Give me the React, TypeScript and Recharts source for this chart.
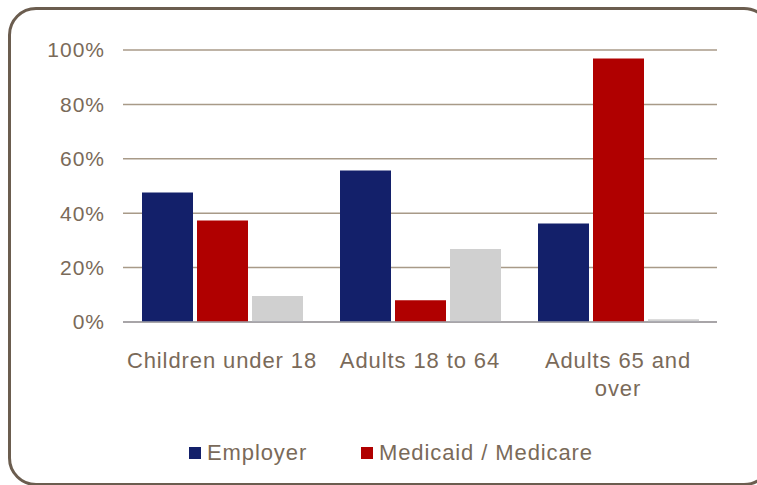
import { BarChart, Bar, XAxis, YAxis, CartesianGrid, Legend } from "recharts";

const categories = ["Children under 18", "Adults 18 to 64", "Adults 65 and over"];
const employer = [47.6, 55.7, 36.2];
const medicaid = [37.3, 8.0, 96.9];
const other = [9.6, 26.8, 1.0];
const yTicks = [0, 20, 40, 60, 80, 100];

const TEXT = "#7a6a59";
const FONT = "'Liberation Sans', Arial, sans-serif";

const data = categories.map((name, i) => ({
  name,
  employer: employer[i],
  medicaid: medicaid[i],
  other: other[i],
}));

const CategoryTick = (props: any) => {
  const { x, y, payload } = props;
  const words: string[] = String(payload.value).split(" ");
  // wrap long labels like Excel does
  const lines: string[] = [];
  let cur = "";
  words.forEach((w) => {
    const next = cur ? cur + " " + w : w;
    if (next.length > 17 && cur) {
      lines.push(cur);
      cur = w;
    } else cur = next;
  });
  if (cur) lines.push(cur);
  return (
    <text x={x} y={y + 38} textAnchor="middle" fill={TEXT} fontSize={22} fontFamily={FONT} style={{ letterSpacing: 0.9 }}>
      {lines.map((l, i) => (
        <tspan key={i} x={x} dy={i === 0 ? 0 : 28}>
          {l}
        </tspan>
      ))}
    </text>
  );
};

const LegendContent = () => (
  <div style={{ position: "relative", height: 30, fontFamily: FONT, fontSize: 22, color: TEXT, letterSpacing: 0.9 }}>
    <div style={{ position: "absolute", left: 189, top: 0, display: "flex", alignItems: "center" }}>
      <span style={{ width: 12, height: 12, background: "#13206a", display: "inline-block", marginRight: 6 }} />
      <span>Employer</span>
    </div>
    <div style={{ position: "absolute", left: 361, top: 0, display: "flex", alignItems: "center" }}>
      <span style={{ width: 12, height: 12, background: "#b00000", display: "inline-block", marginRight: 6 }} />
      <span>Medicaid / Medicare</span>
    </div>
  </div>
);

export default function App() {
  return (
    <div style={{ position: "absolute", left: 0, top: 0, width: 757, height: 485, overflow: "hidden", background: "#fff" }}>
      <div
        style={{
          position: "absolute",
          left: 8,
          top: 7,
          width: 758,
          height: 473,
          border: "3px solid #6b5d4f",
          borderRadius: 28,
        }}
      />
      <BarChart
        width={757}
        height={485}
        data={data}
        margin={{ top: 50, right: 40, left: 0, bottom: 63 }}
        barSize={51}
        barGap={4}
      >
        <CartesianGrid vertical={false} stroke="#a89a88" strokeWidth={1.5} />
        <XAxis
          dataKey="name"
          tick={<CategoryTick />}
          tickLine={false}
          axisLine={{ stroke: "#a0a0a8", strokeWidth: 1.5 }}
          interval={0}
          height={70}
        />
        <YAxis
          width={123}
          domain={[0, 100]}
          ticks={yTicks}
          tickFormatter={(v: number) => `${v}%`}
          tickLine={false}
          axisLine={false}
          tickMargin={12}
          tick={{ fill: TEXT, fontSize: 21, fontFamily: FONT, letterSpacing: 1 }}
        />
        <Legend content={<LegendContent />} wrapperStyle={{ top: 440, left: 0, width: 757 }} />
        <Bar dataKey="employer" name="Employer" fill="#13206a" isAnimationActive={false} />
        <Bar dataKey="medicaid" name="Medicaid / Medicare" fill="#b00000" isAnimationActive={false} />
        <Bar dataKey="other" name="Other" fill="#d0d0d0" legendType="none" isAnimationActive={false} />
      </BarChart>
    </div>
  );
}
